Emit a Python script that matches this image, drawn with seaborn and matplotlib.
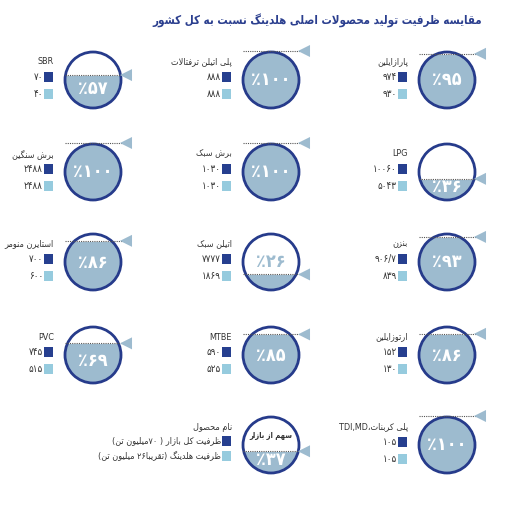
import re

import pandas as pd
import matplotlib
matplotlib.use("Agg")
import matplotlib.pyplot as plt
from matplotlib.patches import Circle
import seaborn as sns


# --- data -------------------------------------------------------------
TITLE = "مقایسه ظرفیت تولید محصولات اصلی هلدینگ نسبت به کل کشور"

products = [
    "پارازایلین", "پلی اتیلن ترفتالات", "SBR",
    "LPG", "برش سبک", "برش سنگین",
    "بنزن", "اتیلن سبک", "استایرن منومر",
    "ارتوزایلین", "MTBE", "PVC",
    "پلی کربنات،TDI,MD",
]
market = [974, 888, 70, 10060, 1030, 2488, 906.7, 7777, 700, 152, 590, 745, 105]
holding = [930, 888, 40, 5043, 1030, 2488, 839, 1869, 600, 130, 525, 515, 105]
share = [95, 100, 57, 36, 100, 100, 93, 26, 86, 86, 85, 69, 100]

legend_name = "نام محصول"
legend_market = "ظرفیت کل بازار ( ۷۰میلیون تن)"
legend_holding = "ظرفیت هلدینگ (تقریبا۲۶ میلیون تن)"
legend_share_title = "سهم از بازار"
legend_share = 37

# --- style ------------------------------------------------------------
NAVY = "#263b8b"
FILL = "#9dbbcf"
DARK_SQ = "#263f8f"
LIGHT_SQ = "#96cbde"
TEXT = "#333333"

COL_X = [447, 271, 93]
ROW_Y = [80, 172, 262, 355, 445]
R = 28

# --- tiny persian shaper (matplotlib has no bidi / shaping) -----------
FORMS = {
    "ء": (0xFE80,), "آ": (0xFE81, 0xFE82), "أ": (0xFE83, 0xFE84),
    "ؤ": (0xFE85, 0xFE86), "إ": (0xFE87, 0xFE88),
    "ئ": (0xFE89, 0xFE8A, 0xFE8B, 0xFE8C), "ا": (0xFE8D, 0xFE8E),
    "ب": (0xFE8F, 0xFE90, 0xFE91, 0xFE92), "ة": (0xFE93, 0xFE94),
    "ت": (0xFE95, 0xFE96, 0xFE97, 0xFE98), "ث": (0xFE99, 0xFE9A, 0xFE9B, 0xFE9C),
    "ج": (0xFE9D, 0xFE9E, 0xFE9F, 0xFEA0), "ح": (0xFEA1, 0xFEA2, 0xFEA3, 0xFEA4),
    "خ": (0xFEA5, 0xFEA6, 0xFEA7, 0xFEA8), "د": (0xFEA9, 0xFEAA),
    "ذ": (0xFEAB, 0xFEAC), "ر": (0xFEAD, 0xFEAE), "ز": (0xFEAF, 0xFEB0),
    "س": (0xFEB1, 0xFEB2, 0xFEB3, 0xFEB4), "ش": (0xFEB5, 0xFEB6, 0xFEB7, 0xFEB8),
    "ص": (0xFEB9, 0xFEBA, 0xFEBB, 0xFEBC), "ض": (0xFEBD, 0xFEBE, 0xFEBF, 0xFEC0),
    "ط": (0xFEC1, 0xFEC2, 0xFEC3, 0xFEC4), "ظ": (0xFEC5, 0xFEC6, 0xFEC7, 0xFEC8),
    "ع": (0xFEC9, 0xFECA, 0xFECB, 0xFECC), "غ": (0xFECD, 0xFECE, 0xFECF, 0xFED0),
    "ف": (0xFED1, 0xFED2, 0xFED3, 0xFED4), "ق": (0xFED5, 0xFED6, 0xFED7, 0xFED8),
    "ل": (0xFEDD, 0xFEDE, 0xFEDF, 0xFEE0), "م": (0xFEE1, 0xFEE2, 0xFEE3, 0xFEE4),
    "ن": (0xFEE5, 0xFEE6, 0xFEE7, 0xFEE8), "ه": (0xFEE9, 0xFEEA, 0xFEEB, 0xFEEC),
    "و": (0xFEED, 0xFEEE),
    "پ": (0xFB56, 0xFB57, 0xFB58, 0xFB59), "چ": (0xFB7A, 0xFB7B, 0xFB7C, 0xFB7D),
    "ژ": (0xFB8A, 0xFB8B), "ک": (0xFB8E, 0xFB8F, 0xFB90, 0xFB91),
    "گ": (0xFB92, 0xFB93, 0xFB94, 0xFB95), "ی": (0xFBFC, 0xFBFD, 0xFBFE, 0xFBFF),
}
LAM_ALEF = {"ا": (0xFEFB, 0xFEFC), "آ": (0xFEF5, 0xFEF6)}


def joins_next(ch):
    return ch in FORMS and len(FORMS[ch]) == 4


def joins(ch):
    return ch in FORMS and len(FORMS[ch]) >= 2


def shape(s):
    s = s.replace("ي", "ی").replace("ك", "ک")
    out = []
    i = 0
    while i < len(s):
        ch = s[i]
        prev = joins_next(s[i - 1]) if i > 0 else False
        if ch == "ل" and i + 1 < len(s) and s[i + 1] in LAM_ALEF:
            iso, fin = LAM_ALEF[s[i + 1]]
            out.append(chr(fin if prev else iso))
            i += 2
            continue
        if ch not in FORMS:
            out.append(ch)
            i += 1
            continue
        f = FORMS[ch]
        nxt = len(f) == 4 and i + 1 < len(s) and joins(s[i + 1])
        if prev and nxt:
            out.append(chr(f[3]))
        elif prev:
            out.append(chr(f[1]))
        elif nxt:
            out.append(chr(f[2]))
        else:
            out.append(chr(f[0]))
        i += 1
    return "".join(out)


def fa(s):
    if not any(c in FORMS for c in s):
        return s
    t = shape(s)[::-1]
    t = re.sub(r"[A-Za-z0-9۰-۹,./]+", lambda m: m.group(0)[::-1], t)
    return t.translate({ord("("): ")", ord(")"): "("})


def fa_num(v):
    return f"{v:g}".translate(str.maketrans("0123456789.", "۰۱۲۳۴۵۶۷۸۹/"))


# --- figure -----------------------------------------------------------
sns.set_theme(style="white")
plt.rcParams["font.family"] = ["DejaVu Sans"]
plt.rcParams["font.stretch"] = "condensed"

fig = plt.figure(figsize=(5.28, 5.11), dpi=100)
ax = fig.add_axes([0, 0, 1, 1])

cells = [divmod(i, 3) for i in range(len(products))]
df = pd.DataFrame({
    "producto": products,
    "market": market,
    "holding": holding,
    "share": share,
    "cx": [COL_X[c] for r, c in cells],
    "cy": [ROW_Y[r] for r, c in cells],
})
key = pd.DataFrame({"cx": [COL_X[1]], "cy": [ROW_Y[4]], "share": [legend_share]})
gauges = pd.concat([df[["cx", "cy", "share"]], key], ignore_index=True)
gauges["level"] = gauges["cy"] + R - 2 * R * gauges["share"] / 100


def draw_gauge(cx, cy, pct, level):
    ax.add_patch(Circle((cx, cy), R, facecolor="white", edgecolor="none", zorder=1))
    clip = Circle((cx, cy), R, transform=ax.transData)
    body = ax.fill_between([cx - R, cx + R], level, cy + R, color=FILL, lw=0, zorder=2)
    body.set_clip_path(clip)
    ax.add_patch(Circle((cx, cy), R, facecolor="none", edgecolor=NAVY, lw=2, zorder=4))
    ax.plot([cx - R, cx + R + 2], [level - 1, level - 1], ls=(0, (1, 1)),
            color="#555555", lw=0.8, zorder=5)
    if pct < 30:
        ty, tc = cy, FILL
    else:
        ty, tc = max(cy, (level + cy + R) / 2 - 3), "white"
    ax.text(cx, ty, "٪" + fa_num(pct), ha="center", va="center", color=tc,
            fontsize=13, fontweight="bold", zorder=6)


for row in gauges.itertuples():
    draw_gauge(row.cx, row.cy, row.share, row.level)

# triangles marking the level
tri = pd.DataFrame({"x": gauges["cx"] + R + 5, "y": gauges["level"] - 1})
sns.scatterplot(data=tri, x="x", y="y", marker="<", s=75, color=FILL,
                edgecolor="none", ax=ax, legend=False, zorder=6)

# legend squares beside each circle
sq = pd.concat([
    pd.DataFrame({"x": df["cx"] - 44.5, "y": df["cy"] - 3, "tipo": "market"}),
    pd.DataFrame({"x": df["cx"] - 44.5, "y": df["cy"] + 14, "tipo": "holding"}),
    pd.DataFrame({"x": [COL_X[1] - 44.5] * 2, "y": [ROW_Y[4] - 4, ROW_Y[4] + 11],
                  "tipo": ["market", "holding"]}),
], ignore_index=True)
sns.scatterplot(data=sq, x="x", y="y", hue="tipo", marker="s", s=48,
                palette={"market": DARK_SQ, "holding": LIGHT_SQ},
                edgecolor="none", ax=ax, legend=False, zorder=6)

FS = 6.5
FN = 7
for row in df.itertuples():
    ax.text(row.cx - 39, row.cy - 18, fa(row.producto), ha="right", va="center",
            fontsize=FS, color=TEXT)
    ax.text(row.cx - 50, row.cy - 3, fa_num(row.market), ha="right", va="center",
            fontsize=FN, color=TEXT)
    ax.text(row.cx - 50, row.cy + 14, fa_num(row.holding), ha="right", va="center",
            fontsize=FN, color=TEXT)

kx, ky = COL_X[1], ROW_Y[4]
ax.text(kx - 39, ky - 18, fa(legend_name), ha="right", va="center", fontsize=FS, color=TEXT)
ax.text(kx - 50, ky - 4, fa(legend_market), ha="right", va="center", fontsize=FS, color=TEXT)
ax.text(kx - 50, ky + 11, fa(legend_holding), ha="right", va="center", fontsize=FS, color=TEXT)
ax.text(kx, ky - 10, fa(legend_share_title), ha="center", va="center", fontsize=5.5,
        color=TEXT, fontweight="bold", zorder=6)

ax.text(482, 21, fa(TITLE), ha="right", va="center", fontsize=8.3,
        fontweight="bold", color="#2b3f8f")

ax.set_xlim(0, 528)
ax.set_ylim(511, 0)
ax.axis("off")

plt.savefig("out.png", dpi=100)
plt.close()
